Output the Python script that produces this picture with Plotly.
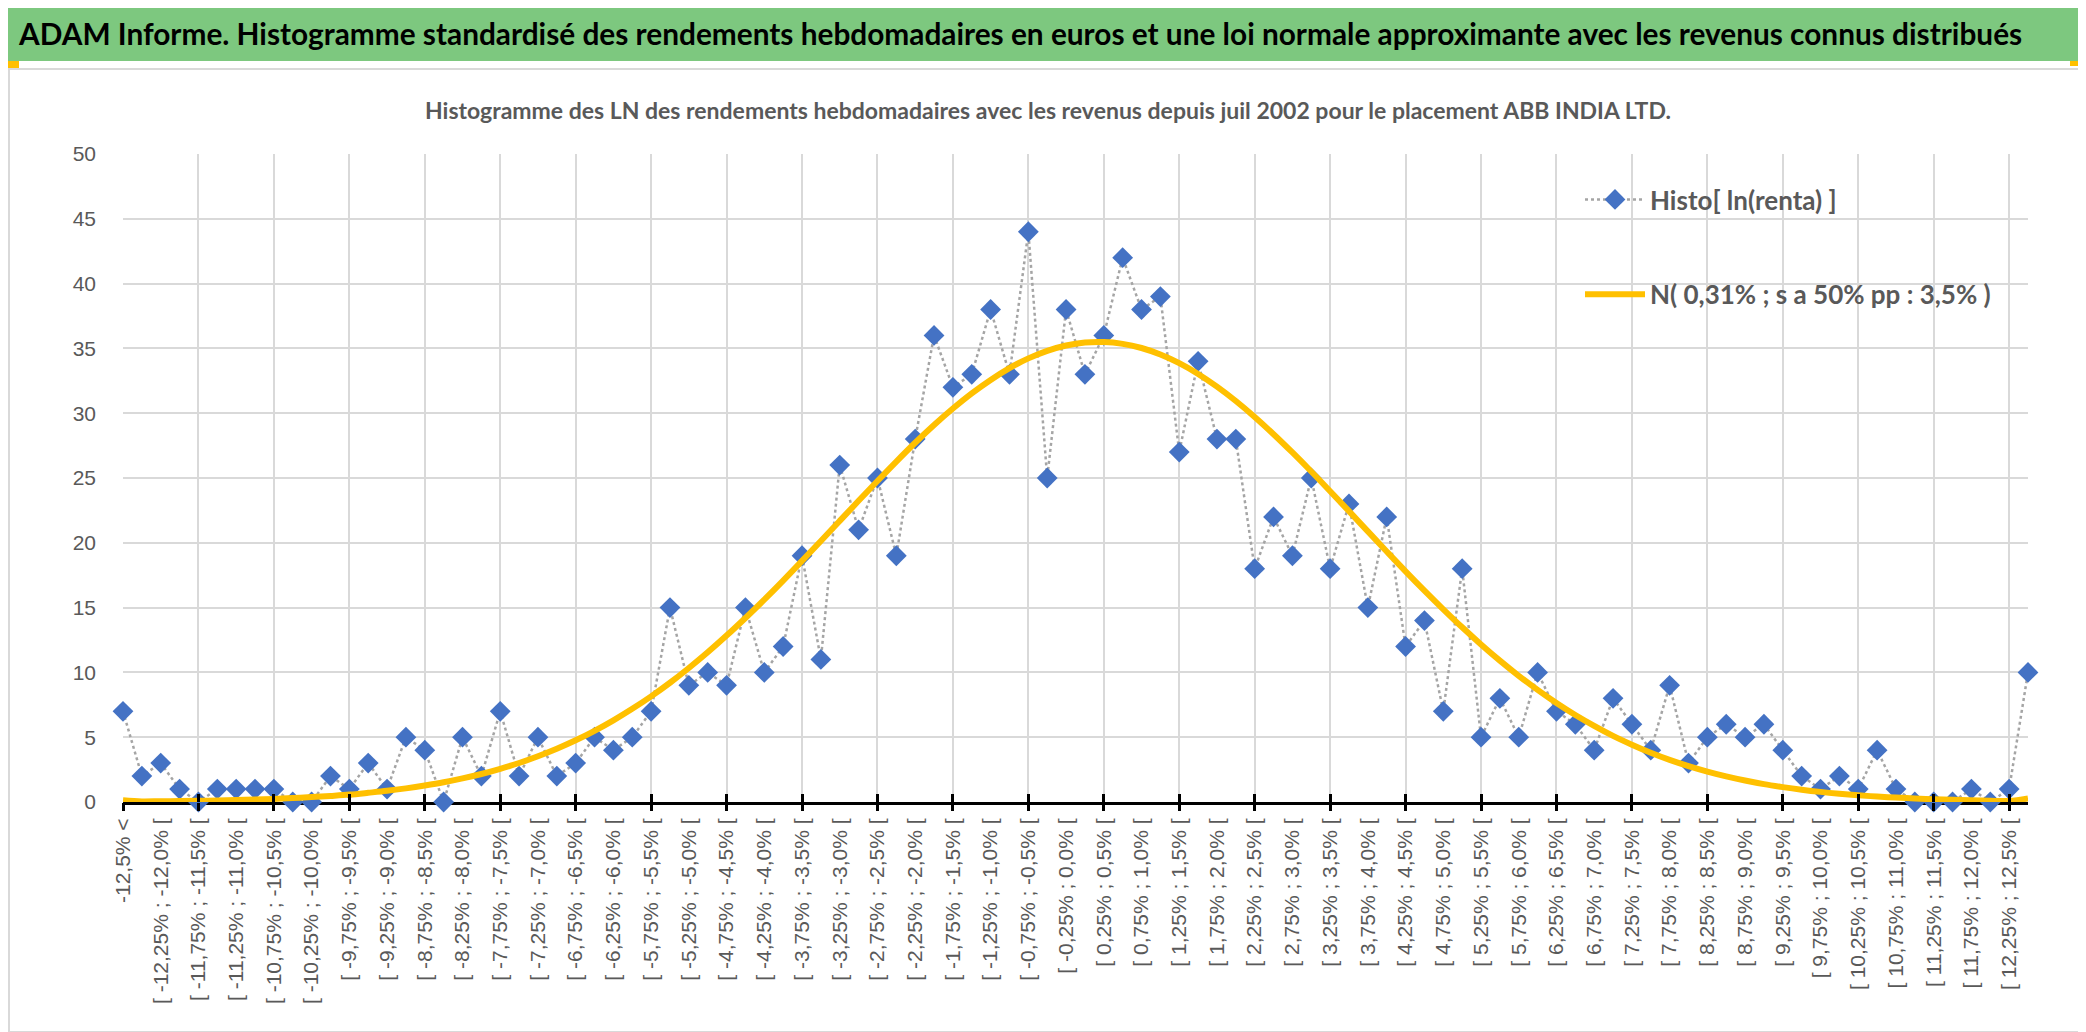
import plotly.graph_objects as go

# weekly log-return histogram (counts per 0.25% bin), ABB INDIA LTD since juil 2002
counts = [7, 2, 3, 1, 0, 1, 1, 1, 1, 0,
          0, 2, 1, 3, 1, 5, 4, 0, 5, 2,
          7, 2, 5, 2, 3, 5, 4, 5, 7, 15,
          9, 10, 9, 15, 10, 12, 19, 11, 26, 21,
          25, 19, 28, 36, 32, 33, 38, 33, 44, 25,
          38, 33, 36, 42, 38, 39, 27, 34, 28, 28,
          18, 22, 19, 25, 18, 23, 15, 22, 12, 14,
          7, 18, 5, 8, 5, 10, 7, 6, 4, 8,
          6, 4, 9, 3, 5, 6, 5, 6, 4, 2,
          1, 2, 1, 4, 1, 0, 0, 0, 1, 0,
          1, 10]

# approximating normal law
normal = [0.13, 0.04, 0.06, 0.07, 0.09, 0.12, 0.15, 0.19, 0.24, 0.30,
          0.38, 0.47, 0.57, 0.71, 0.86, 1.05, 1.27, 1.52, 1.82, 2.16,
          2.56, 3.01, 3.53, 4.11, 4.76, 5.49, 6.30, 7.19, 8.15, 9.20,
          10.34, 11.55, 12.84, 14.20, 15.61, 17.08, 18.60, 20.14, 21.69, 23.24,
          24.77, 26.27, 27.72, 29.09, 30.36, 31.53, 32.57, 33.48, 34.23, 34.81,
          35.22, 35.45, 35.49, 35.35, 35.03, 34.53, 33.86, 33.03, 32.05, 30.94,
          29.71, 28.38, 26.97, 25.50, 23.98, 22.44, 20.88, 19.33, 17.80, 16.31,
          14.87, 13.48, 12.16, 10.91, 9.74, 8.65, 7.64, 6.71, 5.87, 5.10,
          4.42, 3.80, 3.25, 2.77, 2.35, 1.98, 1.66, 1.38, 1.15, 0.95,
          0.78, 0.64, 0.52, 0.42, 0.34, 0.27, 0.21, 0.17, 0.13, 0.10,
          0.08, 0.27]

# one label every second bin (as shown under the axis)
tick_labels = ["-12,5% <",
               "[ -12,25% ; -12,0% [", "[ -11,75% ; -11,5% [", "[ -11,25% ; -11,0% [",
               "[ -10,75% ; -10,5% [", "[ -10,25% ; -10,0% [", "[ -9,75% ; -9,5% [",
               "[ -9,25% ; -9,0% [", "[ -8,75% ; -8,5% [", "[ -8,25% ; -8,0% [",
               "[ -7,75% ; -7,5% [", "[ -7,25% ; -7,0% [", "[ -6,75% ; -6,5% [",
               "[ -6,25% ; -6,0% [", "[ -5,75% ; -5,5% [", "[ -5,25% ; -5,0% [",
               "[ -4,75% ; -4,5% [", "[ -4,25% ; -4,0% [", "[ -3,75% ; -3,5% [",
               "[ -3,25% ; -3,0% [", "[ -2,75% ; -2,5% [", "[ -2,25% ; -2,0% [",
               "[ -1,75% ; -1,5% [", "[ -1,25% ; -1,0% [", "[ -0,75% ; -0,5% [",
               "[ -0,25% ; 0,0% [", "[ 0,25% ; 0,5% [", "[ 0,75% ; 1,0% [",
               "[ 1,25% ; 1,5% [", "[ 1,75% ; 2,0% [", "[ 2,25% ; 2,5% [",
               "[ 2,75% ; 3,0% [", "[ 3,25% ; 3,5% [", "[ 3,75% ; 4,0% [",
               "[ 4,25% ; 4,5% [", "[ 4,75% ; 5,0% [", "[ 5,25% ; 5,5% [",
               "[ 5,75% ; 6,0% [", "[ 6,25% ; 6,5% [", "[ 6,75% ; 7,0% [",
               "[ 7,25% ; 7,5% [", "[ 7,75% ; 8,0% [", "[ 8,25% ; 8,5% [",
               "[ 8,75% ; 9,0% [", "[ 9,25% ; 9,5% [", "[ 9,75% ; 10,0% [",
               "[ 10,25% ; 10,5% [", "[ 10,75% ; 11,0% [", "[ 11,25% ; 11,5% [",
               "[ 11,75% ; 12,0% [", "[ 12,25% ; 12,5% ["]

title = "ADAM Informe. Histogramme standardisé des rendements hebdomadaires en euros et une loi normale approximante avec les revenus connus distribués"
subtitle = "Histogramme des LN des rendements hebdomadaires avec les revenus depuis juil 2002 pour le placement ABB INDIA LTD."
name_histo = "Histo[ ln(renta) ]"
name_normal = "N( 0,31% ; s a 50% pp : 3,5% )"

bins = list(range(len(counts)))
last = len(counts) - 1

W, H = 2086, 1032
L, R, T, B = 115, 66, 146, 238
NARROW = "Lato, Liberation Sans, sans-serif"
GREY = "#595959"


# pixel -> paper helpers for the decorations
def fx(p):
    return (p - L) / (W - L - R)


def fy(p):
    return (H - B - p) / (H - T - B)


fig = go.Figure()

fig.add_trace(go.Scatter(x=bins, y=counts, name=name_histo, mode="lines+markers",
                         line=dict(color="#A5A5A5", width=2.5, dash="dot"),
                         marker=dict(symbol="diamond", size=16, color="#4472C4"),
                         cliponaxis=False, legendgroup="a"))
fig.add_trace(go.Scatter(x=bins, y=normal, name=name_normal, mode="lines",
                         line=dict(color="#FFC000", width=6, shape="spline"),
                         cliponaxis=False, legendgroup="b"))
# empty traces so the grid / tick overlay axes get drawn
fig.add_trace(go.Scatter(x=[], y=[], xaxis="x2", showlegend=False, hoverinfo="skip"))
fig.add_trace(go.Scatter(x=[], y=[], xaxis="x3", showlegend=False, hoverinfo="skip"))

fig.update_layout(
    width=W, height=H,
    margin=dict(l=L, r=R, t=T, b=B, pad=0),
    paper_bgcolor="white", plot_bgcolor="white",
    title=dict(text=title, x=11 / W, xanchor="left", xref="container",
               y=1 - 27 / H, yanchor="middle", yref="container",
               font=dict(family=NARROW, size=29.8, color="black", weight="bold")),
    xaxis=dict(range=[0, last], tickmode="array", tickvals=bins[::2], ticktext=tick_labels,
               tickangle=-90, tickfont=dict(family="Liberation Sans", size=21, color=GREY),
               showgrid=False, zeroline=False, ticks="", ticklabelstandoff=5,
               showline=True, linecolor="black", linewidth=3, layer="below traces"),
    xaxis2=dict(range=[0, last], overlaying="x", anchor="y", tickmode="array",
                tickvals=bins[::4], showticklabels=False, showgrid=True,
                gridcolor="#D9D9D9", gridwidth=1.5, zeroline=False,
                ticks="outside", ticklen=8, tickwidth=2.5, tickcolor="black"),
    xaxis3=dict(range=[0, last], overlaying="x", anchor="y", tickmode="array",
                tickvals=bins[::4], showticklabels=False, showgrid=False, zeroline=False,
                ticks="inside", ticklen=8, tickwidth=2.5, tickcolor="black"),
    yaxis=dict(range=[0, 50], dtick=5, showgrid=True, gridcolor="#D9D9D9", gridwidth=1.5,
               zeroline=False, showline=False, ticks="", ticklabelstandoff=26,
               tickfont=dict(family="Liberation Sans", size=21, color=GREY)),
    legend=dict(x=fx(1572), xanchor="left", y=fy(168), yanchor="top",
                bgcolor="rgba(0,0,0,0)", tracegroupgap=58, itemwidth=60,
                font=dict(family=NARROW, size=26, color=GREY, weight="bold")),
    showlegend=True,
)

fig.add_annotation(text=subtitle, xref="paper", yref="paper", x=fx(1040), y=fy(102),
                   showarrow=False, xanchor="center", yanchor="middle",
                   font=dict(family=NARROW, size=23, color=GREY, weight="bold"))

# green title band and the sheet decorations around the chart
fig.add_shape(type="rect", xref="paper", yref="paper", x0=fx(0), x1=fx(W), y0=fy(53), y1=fy(0),
              fillcolor="#7DC87F", line=dict(width=0), layer="below")
fig.add_shape(type="rect", xref="paper", yref="paper", x0=fx(1), x1=fx(2079), y0=fy(1024), y1=fy(61),
              fillcolor="rgba(0,0,0,0)", line=dict(color="#D9D9D9", width=2), layer="below")
for x0, x1, y0, y1 in [(0, 11, 53, 60), (2062, W, 53, 58), (2078, W, 53, 93),
                       (0, 21, 1024, 1031), (2063, W, 1024, H), (2080, W, 990, H)]:
    fig.add_shape(type="rect", xref="paper", yref="paper", x0=fx(x0), x1=fx(x1), y0=fy(y1), y1=fy(y0),
                  fillcolor="#FFC000", line=dict(width=0))
# white box behind the legend hides the grid there
fig.add_shape(type="rect", xref="paper", yref="paper", x0=fx(1539), x1=1, y0=fy(338), y1=fy(153),
              fillcolor="white", line=dict(width=0), layer="between")

fig.write_html("out.html")
